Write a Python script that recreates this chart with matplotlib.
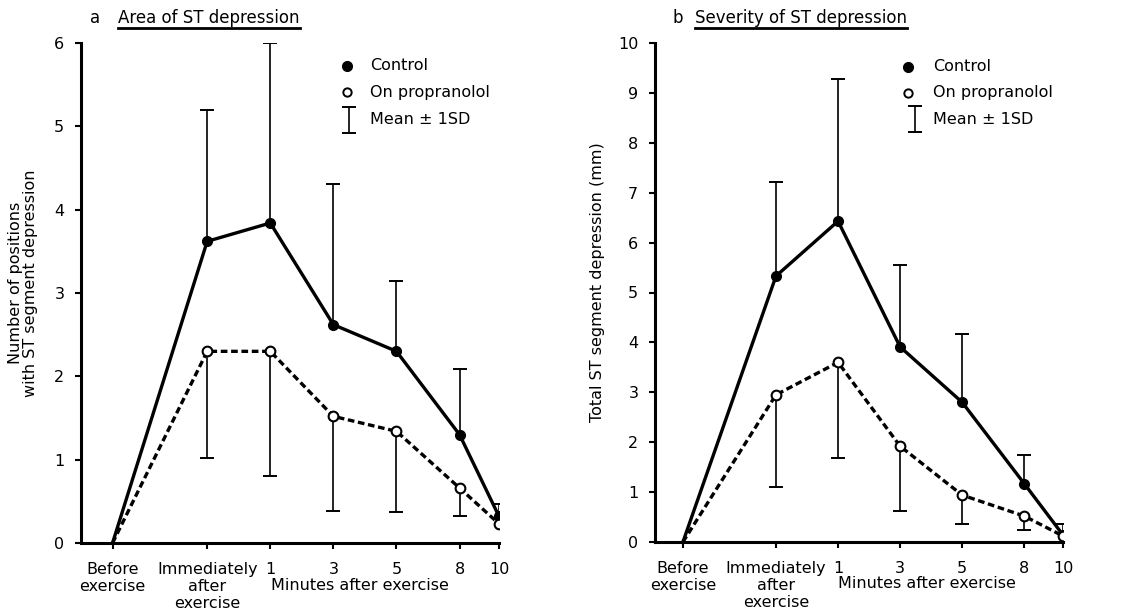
import numpy as np
import matplotlib
matplotlib.use("Agg")
import matplotlib.pyplot as plt
from matplotlib.lines import Line2D
from matplotlib.transforms import IdentityTransform

plt.rcParams['font.family'] = ['DejaVu Sans']
plt.rcParams['font.size'] = 11.5

# category positions along the x axis (uneven spacing as in the original)
x_labels = ["Before\nexercise", "Immediately\nafter\nexercise", "1", "3", "5", "8", "10"]
x_pos = [0, 3, 5, 7, 9, 11, 12.25]

# a: Area of ST depression
a_ctrl = [0, 3.62, 3.84, 2.62, 2.30, 1.30, 0.32]
a_ctrl_up = [np.nan, 5.20, 6.00, 4.31, 3.15, 2.09, 0.47]
a_prop = [0, 2.30, 2.30, 1.52, 1.34, 0.66, 0.23]
a_prop_low = [np.nan, 1.02, 0.80, 0.38, 0.37, 0.32, np.nan]

# b: Severity of ST depression
b_ctrl = [0, 5.33, 6.43, 3.91, 2.80, 1.17, 0.14]
b_ctrl_up = [np.nan, 7.21, 9.28, 5.55, 4.17, 1.74, 0.37]
b_prop = [0, 2.95, 3.60, 1.92, 0.94, 0.52, 0.12]
b_prop_low = [np.nan, 1.10, 1.68, 0.62, 0.36, 0.24, np.nan]

W, H = 1139, 609
fig = plt.figure(figsize=(W / 100, H / 100), dpi=100)

def px_axes(x0, x1, y0, y1):
    # axes box from pixel edges (y measured from top)
    return fig.add_axes([x0 / W, 1 - y1 / H, (x1 - x0) / W, (y1 - y0) / H])

def panel(ax, ctrl, ctrl_up, prop, prop_low, ymax, xleft, ylabel, ylab_x):
    ax.set_xlim(xleft, x_pos[-1])
    ax.set_ylim(0, ymax)
    for s in ["top", "right"]:
        ax.spines[s].set_visible(False)
    for s in ["left", "bottom"]:
        ax.spines[s].set_linewidth(2.2)
    ax.set_xticks(x_pos)
    ax.set_xticklabels(x_labels, linespacing=1.15)
    ax.set_yticks(range(0, ymax + 1))
    ax.tick_params(axis="both", length=4, width=1.5, direction="out")
    ax.tick_params(axis="x", pad=10)
    ax.tick_params(axis="y", pad=8)

    x = np.array(x_pos)
    ctrl = np.array(ctrl); prop = np.array(prop)
    # SD bars: control upwards, propranolol downwards
    ax.vlines(x, ctrl, ctrl_up, color="black", lw=1.2, zorder=2)
    ax.plot(x, ctrl_up, ls="none", marker="_", ms=10, mew=1.4, color="black", zorder=2)
    ax.vlines(x, prop_low, prop, color="black", lw=1.2, zorder=2)
    ax.plot(x, prop_low, ls="none", marker="_", ms=10, mew=1.4, color="black", zorder=2)

    ax.plot(x, ctrl, color="black", lw=2.4, zorder=3)
    ax.plot(x[1:], ctrl[1:], ls="none", marker="o", ms=7, color="black", zorder=4)
    ax.plot(x, prop, color="black", lw=2.4, ls=(0, (2.0, 1.1)), zorder=3)
    ax.plot(x[1:], prop[1:], ls="none", marker="o", ms=7, mfc="white", mec="black",
            mew=1.5, zorder=4)

    ax.set_ylabel(ylabel, linespacing=1.0, fontsize=11.5)
    ax.yaxis.set_label_coords(ylab_x, 0.52)
    ax.text(7.85, -0.084, "Minutes after exercise", ha="center", va="center",
            transform=ax.get_xaxis_transform())

def legend(ax, mx, tx, ys, ebx):
    ax.plot([mx], [ys[0]], marker="o", ms=7, color="black", transform=ax.transAxes,
            clip_on=False)
    ax.plot([mx], [ys[1]], marker="o", ms=6, mfc="white", mec="black", mew=1.4,
            transform=ax.transAxes, clip_on=False)
    ax.plot([ebx, ebx], [ys[2] - 0.026, ys[2] + 0.026], color="black", lw=1.2,
            transform=ax.transAxes, clip_on=False)
    ax.plot([ebx, ebx], [ys[2] - 0.026, ys[2] + 0.026], ls="none", marker="_", ms=10,
            mew=1.4, color="black", transform=ax.transAxes, clip_on=False)
    for y, t in zip(ys, ["Control", "On propranolol", "Mean \u00b1 1SD"]):
        ax.text(tx, y, t, ha="left", va="center", transform=ax.transAxes)

ax1 = px_axes(81, 499, 43, 543)
panel(ax1, a_ctrl, a_ctrl_up, a_prop, a_prop_low, 6, -1.0,
      "Number of positions\nwith ST segment depression", -0.102)
legend(ax1, 0.636, 0.691, [0.954, 0.902, 0.847], 0.64)

ax2 = px_axes(655, 1063, 43, 542)
panel(ax2, b_ctrl, b_ctrl_up, b_prop, b_prop_low, 10, -0.9,
      "Total ST segment depression (mm)", -0.122)
legend(ax2, 0.62, 0.681, [0.952, 0.900, 0.847], 0.637)

# panel titles with underline
titles = [(90, 118, "a", "Area of ST depression"),
          (672, 695, "b", "Severity of ST depression")]
heads = []
for lx, tx, letter, text in titles:
    fig.text(lx / W, 1 - 18 / H, letter, ha="left", va="center", fontsize=12)
    heads.append(fig.text(tx / W, 1 - 18 / H, text, ha="left", va="center", fontsize=12))

fig.canvas.draw()
for t in heads:
    bb = t.get_window_extent()
    fig.add_artist(Line2D([bb.x0, bb.x1], [bb.y0 - 1, bb.y0 - 1], lw=2.0,
                          color="black", transform=IdentityTransform()))

fig.savefig("out.png", dpi=100)
